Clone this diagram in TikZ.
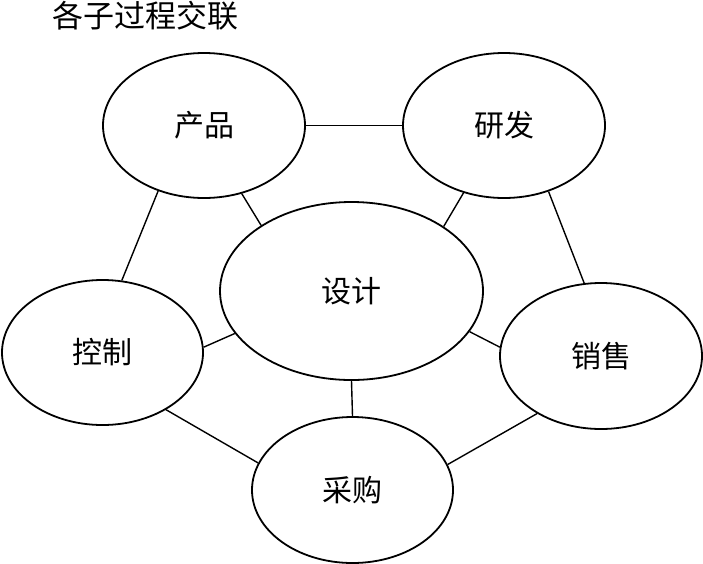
\documentclass[tikz,border=0pt]{standalone}
\usepackage{fontspec}
\newfontfamily\cjk{Noto Sans CJK SC}
\usetikzlibrary{shapes.geometric}
\begin{document}
\begin{tikzpicture}[x=1pt,y=-1pt,
  proc/.style={ellipse, draw, line width=1.8pt, inner sep=0pt,
    font=\cjk\fontsize{30}{32}\selectfont},
  link/.style={line width=1.4pt},
  titletext/.style={font=\cjk\fontsize{31}{33}\selectfont, inner sep=0pt}]
\useasboundingbox (0,0) rectangle (703,563);
\node[titletext] (title) at (145.5,16) {各子过程交联};
\node[proc, minimum width=202pt, minimum height=145pt] (prod) at (204,125.5) {产品};
\node[proc, minimum width=202pt, minimum height=145pt] (rd) at (504,125.5) {研发};
\node[proc, minimum width=263pt, minimum height=178pt] (design) at (351.5,291) {设计};
\node[proc, minimum width=201pt, minimum height=145pt] (ctrl) at (102.5,352.5) {控制};
\node[proc, minimum width=202pt, minimum height=146pt] (sales) at (601,356) {销售};
\node[proc, minimum width=201pt, minimum height=146pt] (buy) at (352.5,490) {采购};
\draw[link] (prod.east) -- (rd.west);
\draw[link] (prod.-125.7) -- (ctrl.75);
\draw[link] (prod.-61.3) -- (design.144.2);
\draw[link] (rd.-121.3) -- (design.35.2);
\draw[link] (rd.-56.7) -- (sales.103.9);
\draw[link] (ctrl.3) -- (design.-160.9);
\draw[link] (design.-19.8) -- (sales.175.5);
\draw[link] (design.south) -- (buy.north);
\draw[link] (ctrl.-42.6) -- (buy.164.2);
\draw[link] (sales.-138.3) -- (buy.15.8);
\end{tikzpicture}
\end{document}
